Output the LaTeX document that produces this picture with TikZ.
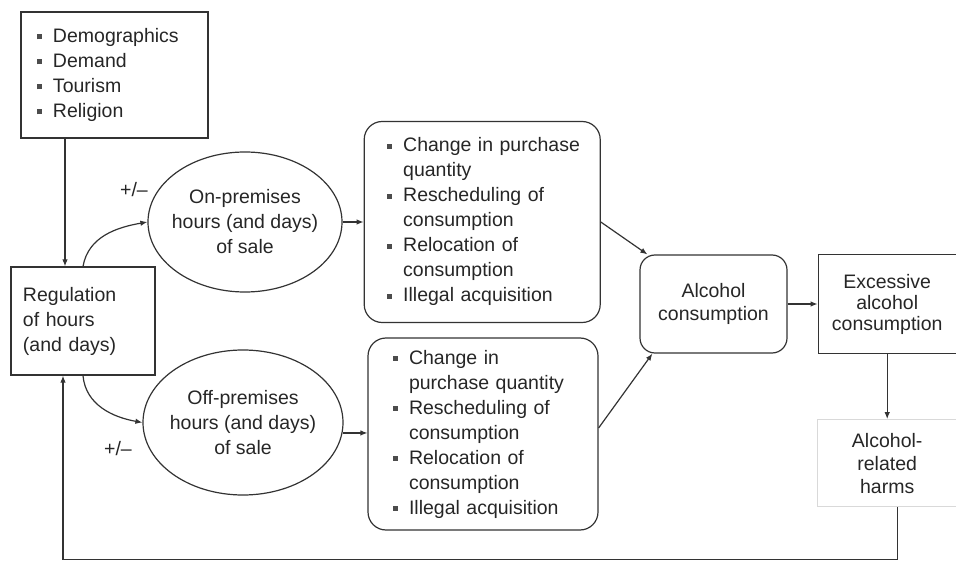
\documentclass[tikz,border=0pt]{standalone}
\usepackage{fontspec}
\setmainfont{Liberation Sans}
\usetikzlibrary{positioning,shapes.geometric,arrows.meta}
\newcommand{\sq}{\textcolor{black!70}{\rule[0.3ex]{5pt}{5pt}}}
\newcommand{\lsp}[1]{\fontsize{19.5}{#1}\selectfont}

\begin{document}
\begin{tikzpicture}[->, >={Latex[length=7pt,width=5.5pt]}, x=1pt, y=1pt, line width=1.2pt, draw=black!80,
  box node/.style={rectangle, draw=black!80, inner sep=0pt, align=center},
  round node/.style={rectangle, rounded corners=18pt, draw=black!80, inner sep=0pt},
  oval node/.style={ellipse, draw=black!80, inner xsep=-25pt, inner ysep=0pt, align=center}]
  \tikzstyle{every node}=[font=\lsp{25}, text=black!85]
  \useasboundingbox (0,0) rectangle (956,563);

  \node[box node, minimum width=187pt, minimum height=126pt, text width=155pt, align=left] (1) at (114.5,488)
    {\noindent\begin{tabular}{@{}l@{\hspace{11pt}}l@{}}
      \sq & Demographics\\ \sq & Demand\\ \sq & Tourism\\ \sq & Religion
    \end{tabular}};
  \node[box node, minimum width=144pt, minimum height=108pt, text width=120pt, align=left] (2) at (83,242)
    {Regulation\\ of hours\\ (and days)};
  \node[oval node, minimum width=194pt, minimum height=140pt] (3) at (245,341)
    {On-premises\\ hours (and days)\\ of sale};
  \node[oval node, minimum width=200pt, minimum height=145pt] (4) at (243,140.5)
    {Off-premises\\ hours (and days)\\ of sale};
  \node[round node, minimum width=236pt, minimum height=201pt, text width=190pt, align=left, right=21pt of 3] (5)
    {\noindent\begin{tabular}{@{}l@{\hspace{11pt}}l@{}}
      \sq & Change in purchase\\ & quantity\\ \sq & Rescheduling of\\ & consumption\\
      \sq & Relocation of\\ & consumption\\ \sq & Illegal acquisition
    \end{tabular}};
  \node[round node, minimum width=230pt, minimum height=192pt, text width=180pt, align=left] (6) at (483,129)
    {\noindent\begin{tabular}{@{}l@{\hspace{11pt}}l@{}}
      \sq & Change in\\ & purchase quantity\\ \sq & Rescheduling of\\ & consumption\\
      \sq & Relocation of\\ & consumption\\ \sq & Illegal acquisition
    \end{tabular}};
  \node[round node, rounded corners=15pt, minimum width=147pt, minimum height=98pt, align=center, font=\lsp{23}] (7) at (713.5,259)
    {Alcohol\\ consumption};
  \node[box node, minimum width=138pt, minimum height=99pt, font=\lsp{21}, right=30pt of 7] (8)
    {Excessive\\ alcohol\\ consumption};
  \node[box node, draw=black!15, minimum width=139pt, minimum height=87pt, font=\lsp{23}, below=65pt of 8] (9)
    {Alcohol-\\ related\\ harms};

  \node (p1) at (134,373) {+/–};
  \node (p2) at (118,114) {+/–};

  \coordinate (r1) at ([xshift=-18pt]2.north);
  \coordinate (r2) at ([xshift=-20pt]2.south);
  \coordinate (h) at ([xshift=10pt]9.south);

  \draw (1.south -| r1) -- (r1);
  \draw (2.north) to[out=80, in=190] (3.west);
  \draw (2.south) to[out=-85, in=170] (4.west);
  \path
    (3) edge (5)
    (4.-6.6) edge (4.-6.6 -| 6.west)
    (5.east) edge ([xshift=8pt]7.north west)
    ([yshift=6pt]6.east) edge ([xshift=13pt]7.south west)
    (7) edge (8)
    (8) edge (9);
  \draw (h) -- ++(0,-52) -| (r2);

\end{tikzpicture}
\end{document}
